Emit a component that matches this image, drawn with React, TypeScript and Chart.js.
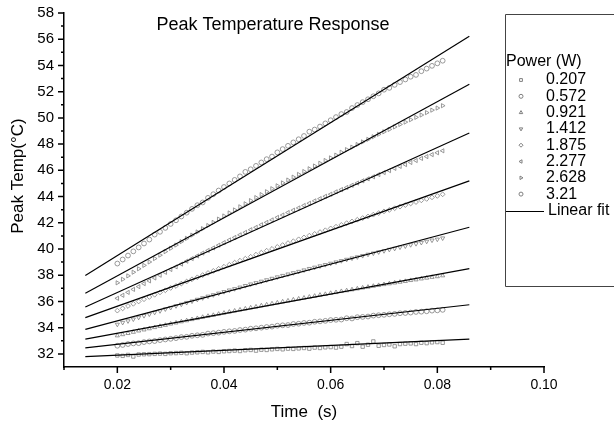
import React, { useEffect, useRef } from 'react';
import { Chart, registerables } from 'chart.js';
import { drawPoint } from 'chart.js/helpers';

Chart.register(...registerables);

const powers = ['0.207', '0.572', '0.921', '1.412', '1.875', '2.277', '2.628', '3.21'];

const times = [
  0.020, 0.021, 0.022, 0.023, 0.024, 0.025, 0.026, 0.027, 0.028, 0.029,
  0.030, 0.031, 0.032, 0.033, 0.034, 0.035, 0.036, 0.037, 0.038, 0.039,
  0.040, 0.041, 0.042, 0.043, 0.044, 0.045, 0.046, 0.047, 0.048, 0.049,
  0.050, 0.051, 0.052, 0.053, 0.054, 0.055, 0.056, 0.057, 0.058, 0.059,
  0.060, 0.061, 0.062, 0.063, 0.064, 0.065, 0.066, 0.067, 0.068, 0.069,
  0.070, 0.071, 0.072, 0.073, 0.074, 0.075, 0.076, 0.077, 0.078, 0.079,
  0.080, 0.081,
];

const temp0207 = [
  31.88, 31.85, 31.92, 31.80, 31.95, 31.97, 31.98, 32.00, 32.02, 32.00,
  32.05, 32.06, 32.08, 32.05, 32.10, 32.12, 32.15, 32.12, 32.18, 32.15,
  32.20, 32.22, 32.25, 32.22, 32.28, 32.30, 32.25, 32.32, 32.30, 32.35,
  32.38, 32.35, 32.40, 32.38, 32.42, 32.45, 32.40, 32.48, 32.45, 32.50,
  32.52, 32.48, 32.55, 32.75, 32.60, 32.82, 32.55, 32.70, 32.95, 32.62,
  32.68, 32.72, 32.58, 32.75, 32.78, 32.80, 32.75, 32.85, 32.82, 32.88,
  32.90, 32.85,
];
const temp0572 = [
  32.62, 32.68, 32.75, 32.80, 32.82, 32.90, 32.95, 32.98, 33.05, 33.10,
  33.15, 33.20, 33.28, 33.30, 33.38, 33.42, 33.45, 33.55, 33.58, 33.62,
  33.68, 33.72, 33.75, 33.82, 33.85, 33.92, 33.95, 34.00, 34.05, 34.08,
  34.15, 34.18, 34.20, 34.28, 34.30, 34.36, 34.38, 34.45, 34.48, 34.52,
  34.58, 34.60, 34.62, 34.72, 34.70, 34.80, 34.82, 34.85, 34.92, 34.95,
  34.98, 35.02, 35.05, 35.10, 35.12, 35.15, 35.20, 35.22, 35.25, 35.30,
  35.32, 35.36,
];
const temp0921 = [
  33.39, 33.48, 33.57, 33.66, 33.76, 33.84, 33.93, 34.02, 34.11, 34.19,
  34.29, 34.37, 34.46, 34.54, 34.63, 34.71, 34.80, 34.88, 34.95, 35.04,
  35.12, 35.20, 35.28, 35.36, 35.44, 35.52, 35.59, 35.68, 35.75, 35.83,
  35.90, 35.98, 36.05, 36.13, 36.20, 36.27, 36.34, 36.41, 36.49, 36.55,
  36.63, 36.69, 36.77, 36.83, 36.90, 36.97, 37.04, 37.10, 37.17, 37.23,
  37.30, 37.36, 37.42, 37.48, 37.54, 37.61, 37.66, 37.73, 37.79, 37.85,
  37.90, 37.97,
];
const temp1412 = [
  34.25, 34.39, 34.51, 34.65, 34.78, 34.91, 35.03, 35.16, 35.28, 35.42,
  35.53, 35.66, 35.78, 35.91, 36.02, 36.15, 36.27, 36.39, 36.50, 36.62,
  36.74, 36.86, 36.96, 37.08, 37.20, 37.32, 37.42, 37.53, 37.64, 37.75,
  37.86, 37.97, 38.08, 38.18, 38.28, 38.39, 38.50, 38.60, 38.70, 38.80,
  38.90, 39.00, 39.10, 39.20, 39.30, 39.39, 39.49, 39.59, 39.68, 39.77,
  39.86, 39.96, 40.04, 40.14, 40.22, 40.32, 40.40, 40.49, 40.58, 40.67,
  40.74, 40.83,
];
const temp1875 = [
  35.30, 35.47, 35.65, 35.82, 36.00, 36.17, 36.34, 36.51, 36.69, 36.85,
  37.03, 37.18, 37.36, 37.52, 37.69, 37.84, 38.01, 38.17, 38.33, 38.49,
  38.65, 38.80, 38.96, 39.11, 39.26, 39.41, 39.57, 39.72, 39.87, 40.01,
  40.16, 40.30, 40.45, 40.59, 40.74, 40.88, 41.02, 41.15, 41.29, 41.43,
  41.57, 41.70, 41.84, 41.97, 42.10, 42.23, 42.36, 42.48, 42.62, 42.74,
  42.87, 42.98, 43.11, 43.23, 43.35, 43.47, 43.58, 43.71, 43.82, 43.94,
  44.05, 44.17,
];
const temp2277 = [
  36.24, 36.47, 36.69, 36.92, 37.13, 37.36, 37.57, 37.79, 38.00, 38.22,
  38.44, 38.64, 38.85, 39.07, 39.27, 39.47, 39.69, 39.89, 40.08, 40.29,
  40.49, 40.69, 40.88, 41.08, 41.27, 41.47, 41.65, 41.85, 42.03, 42.22,
  42.41, 42.59, 42.78, 42.96, 43.13, 43.32, 43.49, 43.67, 43.84, 44.02,
  44.18, 44.36, 44.53, 44.69, 44.86, 45.03, 45.20, 45.35, 45.51, 45.68,
  45.83, 45.98, 46.15, 46.30, 46.44, 46.60, 46.75, 46.91, 47.05, 47.20,
  47.34, 47.49,
];
const temp2628 = [
  37.42, 37.69, 37.95, 38.23, 38.49, 38.75, 39.01, 39.27, 39.53, 39.80,
  40.05, 40.30, 40.56, 40.81, 41.06, 41.30, 41.55, 41.79, 42.03, 42.28,
  42.52, 42.75, 42.98, 43.22, 43.45, 43.69, 43.92, 44.15, 44.37, 44.60,
  44.82, 45.04, 45.26, 45.48, 45.69, 45.91, 46.12, 46.33, 46.54, 46.75,
  46.95, 47.16, 47.38, 47.58, 47.77, 47.97, 48.17, 48.36, 48.56, 48.75,
  48.94, 49.12, 49.31, 49.50, 49.68, 49.86, 50.04, 50.22, 50.40, 50.59,
  50.75, 50.93,
];
const temp3210 = [
  38.89, 39.20, 39.50, 39.82, 40.12, 40.42, 40.72, 41.10, 41.31, 41.61,
  41.91, 42.19, 42.48, 42.77, 43.06, 43.34, 43.55, 43.90, 44.18, 44.46,
  44.73, 45.00, 45.27, 45.54, 45.88, 46.08, 46.34, 46.60, 46.85, 47.05,
  47.37, 47.62, 47.87, 48.13, 48.37, 48.62, 48.95, 49.11, 49.34, 49.58,
  49.82, 50.06, 50.29, 50.45, 50.75, 50.98, 51.20, 51.42, 51.65, 51.87,
  52.15, 52.29, 52.52, 52.73, 52.93, 53.14, 53.28, 53.56, 53.76, 53.97,
  54.16, 54.36,
];

const seriesTemps = [temp0207, temp0572, temp0921, temp1412, temp1875, temp2277, temp2628, temp3210];

// Linear fit lines (start / end values at fitX)
const fitX = [0.014, 0.086];
const fitStart = [31.79, 32.46, 33.12, 33.87, 34.77, 35.58, 36.62, 37.97];
const fitEnd = [33.12, 35.75, 38.50, 41.66, 45.20, 48.85, 52.57, 56.22];

const pointStyles = ['rect', 'circle', 'triangle', 'triangle', 'rectRot', 'triangle', 'triangle', 'circle'];
const pointRotations = [0, 0, 0, 180, 0, -90, 90, 0];

const xTickValues = [0.01, 0.02, 0.03, 0.04, 0.05, 0.06, 0.07, 0.08, 0.09, 0.10];
const xTickLabels = ['', '0.02', '', '0.04', '', '0.06', '', '0.08', '', '0.10'];
const yTickValues = [31, 32, 33, 34, 35, 36, 37, 38, 39, 40, 41, 42, 43, 44, 45, 46, 47, 48, 49, 50, 51, 52, 53, 54, 55, 56, 57, 58];

const FONT = '"Liberation Sans", Arial, sans-serif';
const MARKER_COLOR = '#808080';

const decorPlugin = {
  id: 'decor',
  afterDraw(chart: any) {
    const { ctx, chartArea, scales } = chart;
    const xs = scales.x;
    const ys = scales.y;
    ctx.save();
    ctx.strokeStyle = '#000';
    ctx.lineWidth = 1.5;
    ctx.beginPath();
    yTickValues.forEach((v) => {
      if (v === 31) return;
      const y = ys.getPixelForValue(v);
      const len = v % 2 === 0 ? 6 : 3;
      ctx.moveTo(chartArea.left - len, y);
      ctx.lineTo(chartArea.left, y);
    });
    xTickValues.forEach((v, i) => {
      const x = xs.getPixelForValue(v);
      const len = xTickLabels[i] ? 6 : 3;
      ctx.moveTo(x, chartArea.bottom);
      ctx.lineTo(x, chartArea.bottom + len);
    });
    ctx.stroke();

    // titles
    ctx.fillStyle = '#000';
    ctx.textBaseline = 'middle';
    ctx.textAlign = 'center';
    ctx.font = '18px ' + FONT;
    ctx.fillText('Peak Temperature Response', 273, 25);
    ctx.font = '17px ' + FONT;
    ctx.fillText('Time  (s)', (chartArea.left + chartArea.right) / 2, 412);
    ctx.save();
    ctx.translate(18, 176);
    ctx.rotate(-Math.PI / 2);
    ctx.fillText('Peak Temp(\u00B0C)', 0, 0);
    ctx.restore();

    // legend box
    ctx.fillStyle = '#fff';
    ctx.fillRect(506, 15, 108, 271);
    ctx.strokeStyle = '#444';
    ctx.lineWidth = 1;
    ctx.beginPath();
    ctx.moveTo(614, 14.5);
    ctx.lineTo(505.5, 14.5);
    ctx.lineTo(505.5, 286.5);
    ctx.lineTo(614, 286.5);
    ctx.stroke();

    ctx.textAlign = 'left';
    ctx.font = '16px ' + FONT;
    ctx.fillStyle = '#000';
    ctx.fillText('Power (W)', 506, 62);
    powers.forEach((p, i) => {
      const y = 80 + i * 16.3;
      ctx.strokeStyle = MARKER_COLOR;
      ctx.fillStyle = 'rgba(0,0,0,0)';
      drawPoint(ctx, { pointStyle: pointStyles[i], rotation: pointRotations[i], radius: 2, borderWidth: 0.8 } as any, 521, y);
      ctx.fillStyle = '#000';
      ctx.fillText(p, 546, y);
    });
    ctx.strokeStyle = '#000';
    ctx.lineWidth = 1;
    ctx.beginPath();
    ctx.moveTo(506, 211.5);
    ctx.lineTo(544, 211.5);
    ctx.stroke();
    ctx.fillText('Linear fit', 548, 211);
    ctx.restore();
  },
};

export default function App() {
  const ref = useRef<HTMLCanvasElement | null>(null);
  useEffect(() => {
    if (!ref.current) return;
    const scatterSets = seriesTemps.map((arr, i) => ({
      type: 'scatter' as const,
      label: powers[i],
      data: arr.map((y, k) => ({ x: times[k], y })),
      showLine: false,
      pointStyle: pointStyles[i],
      rotation: pointRotations[i],
      pointRadius: 2.4,
      pointBorderWidth: 0.8,
      pointBorderColor: MARKER_COLOR,
      pointBackgroundColor: 'rgba(0,0,0,0)',
      order: 2,
    }));
    const fitSets = fitStart.map((s, i) => ({
      type: 'line' as const,
      label: 'fit ' + powers[i],
      data: [
        { x: fitX[0], y: s },
        { x: fitX[1], y: fitEnd[i] },
      ],
      borderColor: '#000',
      borderWidth: 1.2,
      pointRadius: 0,
      fill: false,
      order: 1,
    }));
    const chart = new Chart(ref.current, {
      type: 'scatter',
      data: { datasets: [...scatterSets, ...fitSets] as any },
      options: {
        animation: false,
        responsive: false,
        layout: { padding: { top: 13, right: 70, left: 0, bottom: 0 } },
        plugins: { legend: { display: false }, tooltip: { enabled: false }, title: { display: false } },
        scales: {
          x: {
            type: 'linear',
            min: 0.01,
            max: 0.10,
            border: { display: true, color: '#000', width: 1.5 },
            grid: { display: true, drawOnChartArea: false, drawTicks: false },
            afterBuildTicks: (s: any) => {
              s.ticks = xTickValues.map((v) => ({ value: v }));
            },
            ticks: {
              autoSkip: false,
              maxRotation: 0,
              padding: 10,
              color: '#000',
              font: { family: FONT, size: 14 },
              callback: (v: any) => {
                const n = Math.round(Number(v) * 100);
                const idx = xTickValues.findIndex((t) => Math.round(t * 100) === n);
                return idx >= 0 ? xTickLabels[idx] : '';
              },
            },
            afterFit: (s: any) => {
              s.height = 57;
              s.paddingLeft = 0;
              s.paddingRight = 0;
              s.paddingTop = 0;
              s.paddingBottom = 0;
            },
          },
          y: {
            type: 'linear',
            min: 31,
            max: 58,
            border: { display: true, color: '#000', width: 1.5 },
            grid: { display: true, drawOnChartArea: false, drawTicks: false },
            afterBuildTicks: (s: any) => {
              s.ticks = yTickValues.map((v) => ({ value: v }));
            },
            ticks: {
              autoSkip: false,
              padding: 10,
              color: '#000',
              font: { family: FONT, size: 15 },
              callback: (v: any) => {
                const n = Number(v);
                return Number.isInteger(n) && n % 2 === 0 && n >= 32 ? String(n) : '';
              },
            },
            afterFit: (s: any) => {
              s.width = 64;
              s.paddingLeft = 0;
              s.paddingRight = 0;
              s.paddingTop = 0;
              s.paddingBottom = 0;
            },
          },
        },
      },
      plugins: [decorPlugin],
    });
    return () => chart.destroy();
  }, []);
  return (
    <div style={{ position: 'absolute', left: 0, top: 0, width: 614, height: 424, background: '#fff' }}>
      <canvas ref={ref} width={614} height={424} style={{ display: 'block' }} />
    </div>
  );
}
